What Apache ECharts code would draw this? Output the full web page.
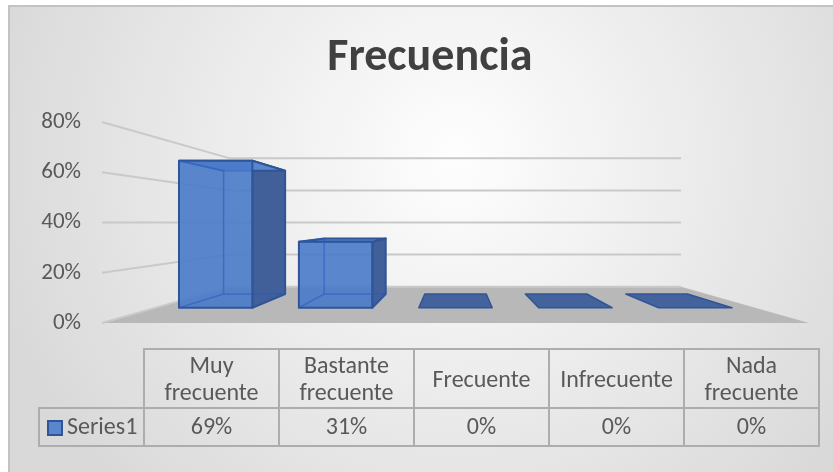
<!DOCTYPE html>
<html>
<head>
<meta charset="utf-8">
<script src="https://cdn.jsdelivr.net/npm/echarts@6/dist/echarts.min.js"></script>
<style>
html, body { margin: 0; padding: 0; background: #fff; }
#main { width: 833px; height: 472px; }
</style>
</head>
<body>
<div id="main"></div>
<script>
(function () {
    'use strict';
    // datos
    var categories = ['Muy frecuente', 'Bastante frecuente', 'Frecuente', 'Infrecuente', 'Nada frecuente'];
    var headerLabels = ['Muy\nfrecuente', 'Bastante\nfrecuente', 'Frecuente', 'Infrecuente', 'Nada\nfrecuente'];
    var values = [69, 31, 0, 0, 0];
    var yTicks = [0, 20, 40, 60, 80];
    var seriesName = 'Series1';

    // perspectiva
    var EYE = 40;          // altura del horizonte (valor del eje)
    var K = 0.567;         // escala del fondo = 1 / (1 + K)
    var BAR_T0 = 0.316, BAR_T1 = 0.716;
    var BAR_RATIO = 0.612;
    var HEADER_H = 59;

    var FONT = 'Carlito, Calibri, Lato, sans-serif';
    var EDGE = '#2f5597';

    function projector(params, api) {
        var cs = params.coordSys;
        var cx = cs.x + cs.width / 2;
        var ey = api.coord([0, EYE])[1];
        return function (x, y, t) {
            var s = 1 / (1 + K * t);
            return [cx + (x - cx) * s, ey + (y - ey) * s];
        };
    }

    function renderWalls(params, api) {
        var cs = params.coordSys;
        var P = projector(params, api);
        var L = cs.x, R = cs.x + cs.width;
        var y0 = api.coord([0, 0])[1];
        var children = [{
            type: 'polygon',
            shape: {points: [P(L, y0, 0), P(R, y0, 0), P(R, y0, 1), P(L, y0, 1)]},
            style: {fill: '#b8b8b8'}
        }];
        yTicks.forEach(function (v) {
            var y = api.coord([0, v])[1];
            children.push({
                type: 'polyline',
                shape: {points: [P(L, y, 0), P(L, y, 1), P(R, y, 1)]},
                style: {stroke: '#c9c9c9', lineWidth: 2, fill: null}
            });
        });
        return {type: 'group', children: children};
    }

    function renderBar(params, api) {
        var P = projector(params, api);
        var i = api.value(0), v = api.value(1);
        var top = api.coord([i, v]);
        var yb = api.coord([i, 0])[1];
        var w = api.size([1, 0])[0] * BAR_RATIO;
        var xl = top[0] - w / 2, xr = top[0] + w / 2, yt = top[1];
        var a = BAR_T0, b = BAR_T1;
        if (v === 0) {
            return {
                type: 'polygon',
                shape: {points: [P(xl, yb, a), P(xr, yb, a), P(xr, yb, b), P(xl, yb, b)]},
                style: {fill: '#44629c', stroke: EDGE, lineWidth: 1.5, lineJoin: 'round'}
            };
        }
        var cx = params.coordSys.x + params.coordSys.width / 2;
        var sideX = top[0] < cx ? xr : xl;
        var hideX = top[0] < cx ? xl : xr;
        var children = [];
        // cara lateral
        children.push({
            type: 'polygon',
            shape: {points: [P(sideX, yb, a), P(sideX, yb, b), P(sideX, yt, b), P(sideX, yt, a)]},
            style: {fill: '#41609a', stroke: EDGE, lineWidth: 2, lineJoin: 'round'}
        });
        // cara superior
        children.push({
            type: 'polygon',
            shape: {points: [P(xl, yt, a), P(xr, yt, a), P(xr, yt, b), P(xl, yt, b)]},
            style: {fill: '#5a86cd', stroke: EDGE, lineWidth: 2, lineJoin: 'round'}
        });
        // cara frontal
        children.push({
            type: 'polygon',
            shape: {points: [P(xl, yb, a), P(xr, yb, a), P(xr, yt, a), P(xl, yt, a)]},
            style: {fill: 'rgba(73,122,201,0.9)', stroke: EDGE, lineWidth: 2, lineJoin: 'round'}
        });
        // aristas ocultas
        children.push({
            type: 'polyline',
            shape: {points: [P(hideX, yt, a), P(hideX, yt, b), P(hideX, yb, b), P(hideX, yb, a)]},
            style: {stroke: 'rgba(40,90,190,0.55)', lineWidth: 1.5, fill: null, lineJoin: 'round'}
        });
        children.push({
            type: 'polyline',
            shape: {points: [P(xl, yb, b), P(xr, yb, b)]},
            style: {stroke: 'rgba(40,90,190,0.55)', lineWidth: 1.5, fill: null}
        });
        return {type: 'group', children: children};
    }

    function renderTable(params, api) {
        var cs = params.coordSys;
        var i = api.value(0);
        var cw = api.size([1, 0])[0];
        var x0 = api.coord([i, 0])[0] - cw / 2;
        var lineStyle = {fill: null, stroke: '#adadad', lineWidth: 2};
        var children = [
            {type: 'rect', shape: {x: x0, y: cs.y, width: cw, height: HEADER_H}, style: lineStyle},
            {type: 'rect', shape: {x: x0, y: cs.y + HEADER_H, width: cw, height: cs.height - HEADER_H}, style: lineStyle},
            {
                type: 'text',
                style: {
                    text: headerLabels[i], x: x0 + cw / 2, y: cs.y + HEADER_H / 2 + 2,
                    align: 'center', verticalAlign: 'middle', lineHeight: 27,
                    font: '24px ' + FONT, fill: '#595959'
                }
            },
            {
                type: 'text',
                style: {
                    text: api.value(1) + '%', x: x0 + cw / 2, y: cs.y + HEADER_H + (cs.height - HEADER_H) / 2 + 1,
                    align: 'center', verticalAlign: 'middle',
                    font: '24px ' + FONT, fill: '#595959'
                }
            }
        ];
        if (i === 0) {
            children.push({
                type: 'rect',
                shape: {x: 39, y: cs.y + HEADER_H, width: x0 - 39, height: cs.height - HEADER_H},
                style: lineStyle
            });
        }
        return {type: 'group', children: children};
    }

    var myChart = echarts.init(document.getElementById('main'));
    var option = {
        backgroundColor: '#ffffff',
        animation: false,
        title: {
            text: 'Frecuencia',
            left: '51%',
            textAlign: 'center',
            top: 30,
            textStyle: {fontFamily: FONT, fontSize: 46, fontWeight: 'bold', color: '#404040'}
        },
        graphic: [{
            type: 'rect',
            z: -10,
            shape: {x: 9, y: 6, width: 860, height: 500},
            style: {
                stroke: '#c3c3c3',
                lineWidth: 2,
                fill: {
                    type: 'radial', x: 0.52, y: 0.3, r: 0.95,
                    colorStops: [{offset: 0, color: '#fefefe'}, {offset: 1, color: '#d9d9d9'}]
                }
            }
        }],
        legend: {
            data: [seriesName],
            selectedMode: false,
            left: 47,
            top: 416,
            padding: 0,
            icon: 'rect',
            itemWidth: 14,
            itemHeight: 14,
            textStyle: {fontFamily: FONT, fontSize: 24, color: '#595959'}
        },
        grid: [
            {left: 102, right: 24, top: 122, bottom: 149},
            {left: 144, right: 14, top: 349, bottom: 26}
        ],
        xAxis: [
            {type: 'category', data: categories, gridIndex: 0, show: false},
            {type: 'category', data: categories, gridIndex: 1, show: false}
        ],
        yAxis: [
            {
                type: 'value', gridIndex: 0, min: 0, max: 80, interval: 20,
                axisLine: {show: false}, axisTick: {show: false}, splitLine: {show: false},
                axisLabel: {formatter: '{value}%', margin: 21, fontFamily: FONT, fontSize: 23, color: '#595959'}
            },
            {type: 'value', gridIndex: 1, min: 0, max: 1, show: false}
        ],
        series: [
            {
                type: 'custom',
                name: 'walls',
                xAxisIndex: 0, yAxisIndex: 0,
                renderItem: renderWalls,
                data: [[0, 0]],
                silent: true,
                z: 1
            },
            {
                type: 'custom',
                name: seriesName,
                xAxisIndex: 0, yAxisIndex: 0,
                renderItem: renderBar,
                itemStyle: {color: '#5a86cd', borderColor: EDGE, borderWidth: 1},
                data: values.map(function (v, i) { return [i, v]; }),
                z: 2
            },
            {
                type: 'custom',
                name: 'table',
                xAxisIndex: 1, yAxisIndex: 1,
                renderItem: renderTable,
                data: values.map(function (v, i) { return [i, v]; }),
                silent: true,
                z: 2
            }
        ]
    };
    myChart.setOption(option);
}());
</script>
</body>
</html>
